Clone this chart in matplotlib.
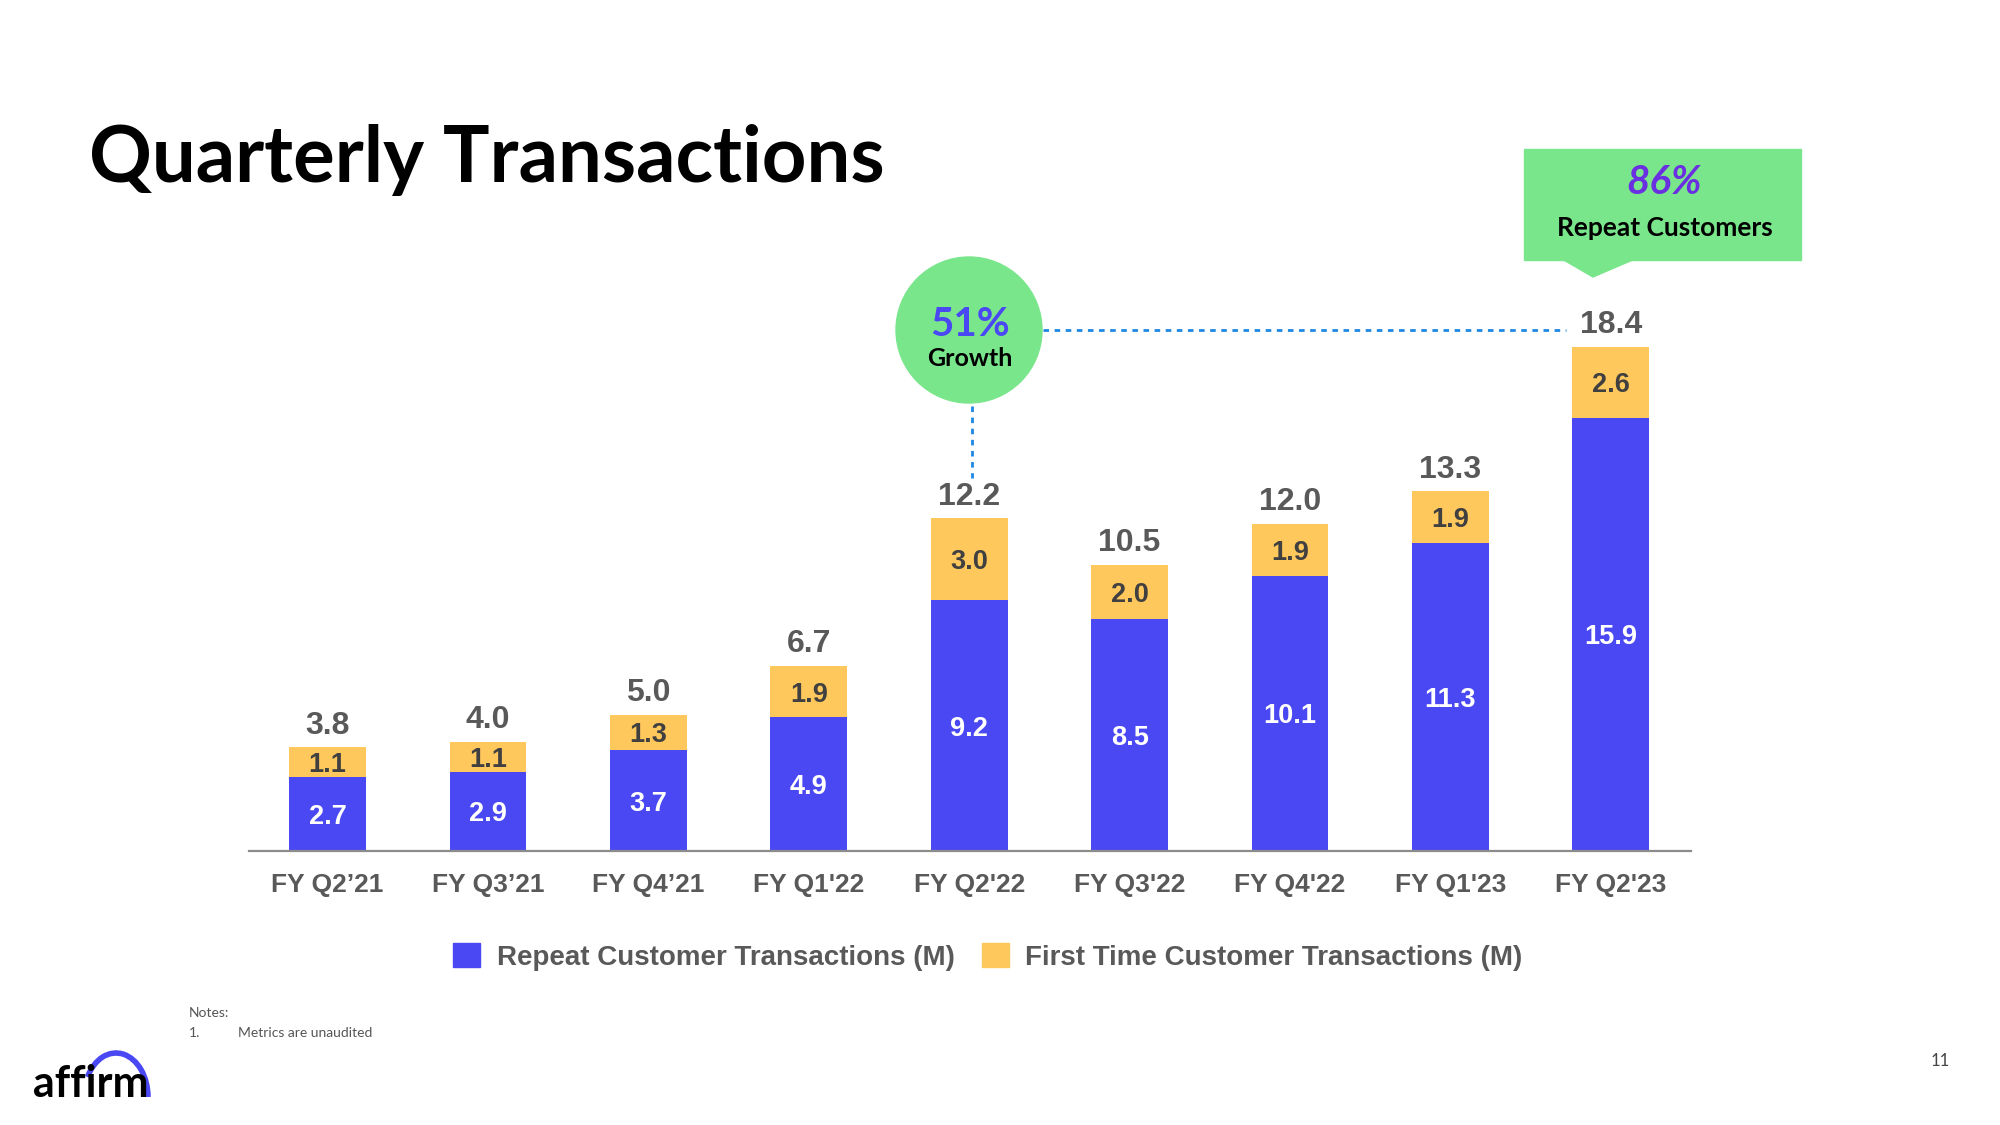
import matplotlib
matplotlib.use("Agg")
import matplotlib.pyplot as plt
from matplotlib.patches import Circle, Rectangle, Polygon, Arc, Patch

# data (millions of transactions)
quarters = ["FY Q2\u201921", "FY Q3\u201921", "FY Q4\u201921", "FY Q1'22", "FY Q2'22",
            "FY Q3'22", "FY Q4'22", "FY Q1'23", "FY Q2'23"]
repeat = [2.7, 2.9, 3.7, 4.9, 9.2, 8.5, 10.1, 11.3, 15.9]
first_time = [1.1, 1.1, 1.3, 1.9, 3.0, 2.0, 1.9, 1.9, 2.6]
totals = [3.8, 4.0, 5.0, 6.7, 12.2, 10.5, 12.0, 13.3, 18.4]

BLUE = "#4A48F2"
YELLOW = "#FFC85C"
GREEN = "#7AE68C"
GRAY = "#595959"
ARIAL = "Liberation Sans"
HEAD = "Lato"

W, H = 2000, 1125
fig = plt.figure(figsize=(20, 11.25), dpi=100)

ax = fig.add_axes([249 / W, 1 - 851 / H, (1691 - 249) / W, 548 / H])
x = list(range(len(quarters)))
ax.bar(x, repeat, width=0.48, color=BLUE, zorder=2)
ax.bar(x, first_time, width=0.48, bottom=repeat, color=YELLOW, zorder=2)

for i in x:
    ax.text(i, repeat[i] / 2, f"{repeat[i]:.1f}", ha="center", va="center_baseline",
            color="white", fontsize=19.5, fontweight="bold", family=ARIAL)
    ax.text(i, repeat[i] + first_time[i] / 2, f"{first_time[i]:.1f}", ha="center",
            va="center_baseline", color="#404040", fontsize=19.5, fontweight="bold",
            family=ARIAL)
    ax.annotate(f"{totals[i]:.1f}", (i, repeat[i] + first_time[i]), xytext=(0, 18),
                textcoords="offset points", ha="center", va="center_baseline", color=GRAY,
                fontsize=23, fontweight="bold", family=ARIAL)

ax.set_xlim(-0.49, 8.5)
ax.set_ylim(0, 20.1)
ax.set_xticks(x)
ax.set_xticklabels(quarters, fontsize=19, fontweight="bold", family=ARIAL, color=GRAY)
ax.tick_params(axis="x", length=0, pad=16)
ax.set_yticks([])
for s in ["top", "right", "left"]:
    ax.spines[s].set_visible(False)
ax.spines["bottom"].set_color("#8C8C8C")
ax.spines["bottom"].set_linewidth(1.6)

handles = [Patch(color=BLUE), Patch(color=YELLOW)]
labels = ["Repeat Customer Transactions (M)", "First Time Customer Transactions (M)"]
fig.legend(handles, labels, loc="center", bbox_to_anchor=(988 / W, 1 - 957 / H), ncol=2,
           frameon=False, handlelength=0.95, handleheight=0.95, handletextpad=0.6,
           columnspacing=1.0, prop={"family": ARIAL, "weight": "bold", "size": 20},
           labelcolor=GRAY)

# overlay in pixel coordinates for callouts and slide furniture
ov = fig.add_axes([0, 0, 1, 1])
ov.set_xlim(0, W)
ov.set_ylim(H, 0)
ov.axis("off")

ov.text(89, 160, "Quarterly Transactions", fontsize=56, fontweight="bold", family=HEAD,
        color="black", va="center", ha="left")

# growth bubble
ov.plot([1043, 1566], [330, 330], ls=(0, (2, 2)), color="#1E88E5", lw=2)
ov.plot([972, 972], [406, 478], ls=(0, (2, 2)), color="#1E88E5", lw=2)
ov.add_patch(Circle((969, 330), 73, color=GREEN))
ov.text(970, 324, "51%", fontsize=29, fontweight="bold", family=HEAD, color=BLUE,
        ha="center", va="center")
ov.text(970, 358, "Growth", fontsize=18, fontweight="bold", family=HEAD, color="black",
        ha="center", va="center")

# repeat customers callout
ov.add_patch(Rectangle((1524, 149), 277, 111, color=GREEN))
ov.add_patch(Polygon([[1562, 259], [1635, 259], [1593, 277]], color=GREEN))
ov.text(1664, 182, "86%", fontsize=29, fontweight="bold", style="italic", family=HEAD,
        color="#6A2FE0", ha="center", va="center")
ov.text(1665, 228, "Repeat Customers", fontsize=19, fontweight="bold", family=HEAD,
        color="black", ha="center", va="center")

# notes
ov.text(189, 1013, "Notes:", fontsize=10, family=HEAD, color="#555555", va="center")
ov.text(189, 1033, "1.", fontsize=10, family=HEAD, color="#555555", va="center")
ov.text(238, 1033, "Metrics are unaudited", fontsize=10, family=HEAD, color="#555555",
        va="center")

# logo
ov.text(33, 1097, "affirm", fontsize=31, fontweight="bold", family=HEAD, color="black",
        va="baseline", ha="left")
ov.add_patch(Arc((116, 1097), 64, 88, theta1=215, theta2=360, color=BLUE, lw=4))

ov.text(1940, 1061, "11", fontsize=12, family=HEAD, color="#444444", ha="center",
        va="center")

fig.savefig("out.png", dpi=100)
